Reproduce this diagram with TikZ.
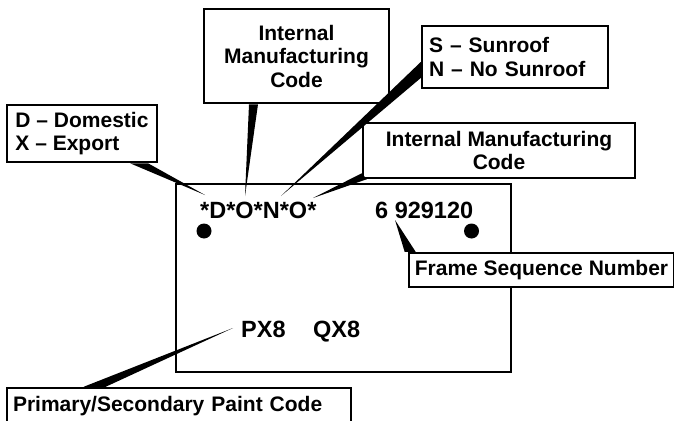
\documentclass[tikz,border=0pt]{standalone}
\usepackage{fontspec}
\setmainfont{Liberation Sans}
\usetikzlibrary{calc, positioning}

\tikzset{
  label box/.style={draw, line width=2.5pt, fill=white, inner sep=0pt, inner xsep=6pt,
    font=\bfseries\fontsize{21}{23.5}\selectfont},
  plate text/.style={inner sep=0pt, anchor=base west,
    font=\bfseries\fontsize{23.5}{26}\selectfont},
  hole/.style={circle, fill, minimum size=15pt, inner sep=0pt},
  leader/.style={fill=black},
}

\begin{document}
\begin{tikzpicture}[x=1pt, y=-1pt]
        \useasboundingbox (0,0) rectangle (674,420);

        % the tag plate
        \node (plate) [draw, line width=2pt, minimum width=335pt, minimum height=188pt] at (343.5,278) {};
        \node (vin) [plate text] at (200,218) {*D*O*N*O*};
        \node (seqno) [plate text] at (375,218) {6 929120};
        \node (prim) [plate text] at (241,337) {PX8};
        \node (sec) [plate text] at (313,337) {QX8};
        \node (holeL) [hole] at (204,231) {};
        \node (holeR) [hole] at (471.5,231) {};

        % call-out boxes
        \node (dombox) [label box, minimum width=150pt, minimum height=57pt, align=left] at (82,133.5) {D -- Domestic\\X -- Export};
        \node (intbox) [label box, minimum width=185pt, minimum height=94pt, align=center] at (296.5,56) {Internal\\Manufacturing\\Code};
        \node (roofbox) [label box, text width=172pt, inner xsep=7pt, minimum height=62pt, align=left] at (515,57) {S -- Sunroof\\N -- No Sunroof};
        \node (intbox2) [label box, minimum width=272pt, minimum height=55pt, align=center] at (499,150.5) {Internal Manufacturing\\Code};
        \node (seqbox) [label box, minimum width=261pt, minimum height=34pt] at (541.5,270) {Frame Sequence Number};
        \node (paintbox) [label box, text width=332pt, minimum height=36pt, align=left] at (179,406) {Primary/Secondary Paint Code};

        % leader tips
        \coordinate (domtip) at (205,195);
        \coordinate (inttip) at (245,196);
        \coordinate (rooftip) at (281,196);
        \coordinate (inttip2) at (313,198);
        \coordinate (seqtip) at (395,220);
        \coordinate (painttip) at (233,328);

        % wedge leaders
        \fill[leader] ([xshift=48pt]dombox.south) -- ([xshift=66pt]dombox.south) -- (domtip) -- cycle;
        \fill[leader] ([xshift=-47.5pt]intbox.south) -- ([xshift=-38.5pt]intbox.south) -- (inttip) -- cycle;
        \fill[leader] ([yshift=-5pt]roofbox.west) -- ([yshift=-21pt]roofbox.west) -- (rooftip) -- cycle;
        \fill[leader] ([yshift=6pt]intbox2.south west) -- ([xshift=5pt]intbox2.south west) -- (inttip2) -- cycle;
        \fill[leader] ([xshift=-3pt]seqbox.north west) -- ([xshift=8pt]seqbox.north west) -- (seqtip) -- cycle;
        \fill[leader] ([xshift=78pt]paintbox.north west) -- ([xshift=100pt]paintbox.north west) -- (painttip) -- cycle;

\end{tikzpicture}
\end{document}
